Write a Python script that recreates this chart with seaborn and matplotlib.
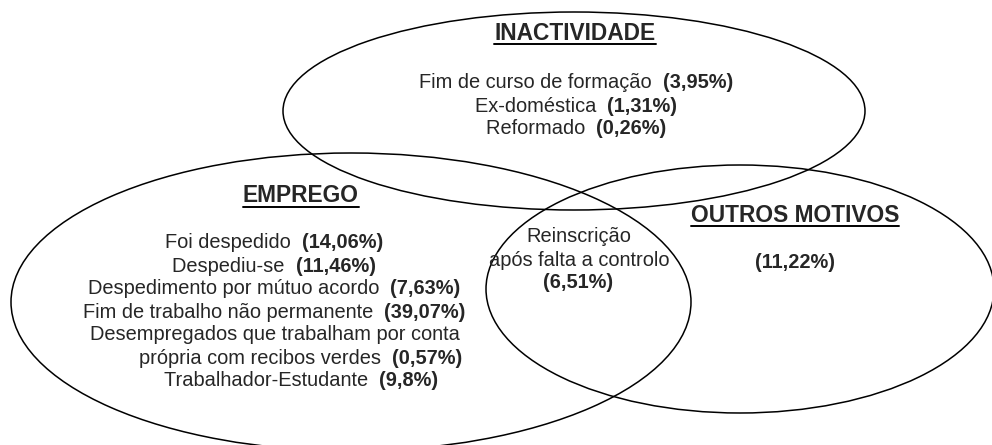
import matplotlib
matplotlib.use("Agg")
import matplotlib.pyplot as plt
from matplotlib.patches import Ellipse
import seaborn as sns

sns.set_theme(style="white")
plt.rcParams["font.family"] = ["Liberation Sans", "DejaVu Sans"]

# ---- dados ----
inact_title = "INACTIVIDADE"
inact_labels = ["Fim de curso de formação", "Ex-doméstica", "Reformado"]
inact_pct = ["3,95", "1,31", "0,26"]

emprego_title = "EMPREGO"
emprego_labels = ["Foi despedido", "Despediu-se", "Despedimento por mútuo acordo",
                  "Fim de trabalho não permanente",
                  "Desempregados que trabalham por conta",
                  "própria com recibos verdes", "Trabalhador-Estudante"]
emprego_pct = ["14,06", "11,46", "7,63", "39,07", None, "0,57", "9,8"]

inter_labels = ["Reinscrição", "após falta a controlo"]
inter_pct = "6,51"

outros_title = "OUTROS MOTIVOS"
outros_pct = "11,22"

# ---- layout (pixels, y para baixo) ----
W, H = 992, 445
FS = 14.4
fig = plt.figure(figsize=(W / 100, H / 100), dpi=100)
ax = fig.add_axes([0, 0, 1, 1])
ax.set_xlim(0, W)
ax.set_ylim(H, 0)
ax.axis("off")

# elipses: (cx, cy, largura, altura)
for cx, cy, w, h in [(574, 111, 582, 198), (351, 302, 680, 298), (740, 289, 508, 248)]:
    ax.add_patch(Ellipse((cx, cy), w, h, fill=False, ec="black", lw=1.1))

fig.canvas.draw()
rend = fig.canvas.get_renderer()


def width_px(t):
    bb = t.get_window_extent(rend)
    return bb.width


def line(cx, y, label, pct):
    # texto normal + percentagem a negrito, centrados em cx
    if pct is None:
        ax.text(cx, y, label, ha="center", va="center", fontsize=FS)
        return
    t1 = ax.text(0, y, label + "  ", ha="left", va="center", fontsize=FS)
    t2 = ax.text(0, y, f"({pct}%)", ha="left", va="center", fontsize=FS, weight="bold")
    w1, w2 = width_px(t1), width_px(t2)
    x0 = cx - (w1 + w2) / 2
    t1.set_x(x0)
    t2.set_x(x0 + w1)


def title(cx, y, s):
    t = ax.text(cx, y, s, ha="center", va="center", fontsize=FS + 2, weight="bold")
    w = width_px(t)
    ax.plot([cx - w / 2, cx + w / 2], [y + 11, y + 11], color="black", lw=1.4)


title(575, 33, inact_title)
for i, (lab, p) in enumerate(zip(inact_labels, inact_pct)):
    line(576, 83 + i * 23, lab, p)

title(301, 196, emprego_title)
emp_x = [274, 274, 274, 274, 275, 301, 301]
for i, (lab, p) in enumerate(zip(emprego_labels, emprego_pct)):
    line(emp_x[i], 243 + i * 23, lab, p)

for i, lab in enumerate(inter_labels):
    ax.text(579, 237 + i * 24, lab, ha="center", va="center", fontsize=FS)
ax.text(578, 283, f"({inter_pct}%)", ha="center", va="center", fontsize=FS, weight="bold")

title(795, 215, outros_title)
ax.text(795, 263, f"({outros_pct}%)", ha="center", va="center", fontsize=FS, weight="bold")

fig.savefig("out.png", dpi=100, facecolor="white")
